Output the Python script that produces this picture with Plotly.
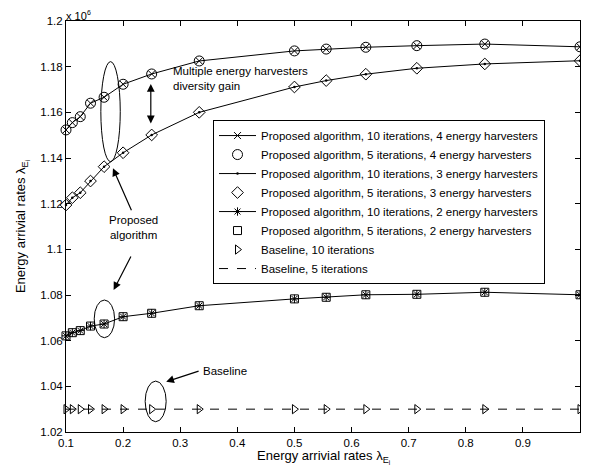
import plotly.graph_objects as go

# ---- data (y values in units of 10^6) ----
x_vals = [0.1, 0.1111, 0.125, 0.1429, 0.1667, 0.2, 0.25, 0.3333, 0.5, 0.5556, 0.625, 0.7143, 0.8333, 1.0]

eh4_10 = [1.1523, 1.1555, 1.1581, 1.1640, 1.1666, 1.1723, 1.1768, 1.1825, 1.1869, 1.1877, 1.1885, 1.1892, 1.1899, 1.1887]
eh4_5 = [1.1523, 1.1555, 1.1581, 1.1640, 1.1666, 1.1723, 1.1768, 1.1825, 1.1869, 1.1877, 1.1885, 1.1892, 1.1899, 1.1887]
eh3_10 = [1.1194, 1.1226, 1.1248, 1.1299, 1.1362, 1.1423, 1.1501, 1.1600, 1.1711, 1.1739, 1.1767, 1.1793, 1.1812, 1.1826]
eh3_5 = [1.1194, 1.1226, 1.1248, 1.1299, 1.1362, 1.1423, 1.1501, 1.1600, 1.1711, 1.1739, 1.1767, 1.1793, 1.1812, 1.1826]
eh2_10 = [1.0621, 1.0635, 1.0644, 1.0664, 1.0673, 1.0705, 1.0720, 1.0753, 1.0783, 1.0790, 1.0801, 1.0803, 1.0812, 1.0801]
eh2_5 = [1.0621, 1.0635, 1.0644, 1.0664, 1.0673, 1.0705, 1.0720, 1.0753, 1.0783, 1.0790, 1.0801, 1.0803, 1.0812, 1.0801]
base_10 = [1.03] * 14
base_5 = [1.03] * 14

series_names = [
    "Proposed algorithm, 10 iterations, 4 energy harvesters",
    "Proposed algorithm, 5 iterations, 4 energy harvesters",
    "Proposed algorithm, 10 iterations, 3 energy harvesters",
    "Proposed algorithm, 5 iterations, 3 energy harvesters",
    "Proposed algorithm, 10 iterations, 2 energy harvesters",
    "Proposed algorithm, 5 iterations, 2 energy harvesters",
    "Baseline, 10 iterations",
    "Baseline, 5 iterations",
]

x_ticks = [0.1, 0.2, 0.3, 0.4, 0.5, 0.6, 0.7, 0.8, 0.9, 1.0]
x_ticktext = ["0.1", "0.2", "0.3", "0.4", "0.5", "0.6", "0.7", "0.8", "0.9", "1"]
y_ticks = [1.02, 1.04, 1.06, 1.08, 1.1, 1.12, 1.14, 1.16, 1.18, 1.2]
y_ticktext = ["1.02", "1.04", "1.06", "1.08", "1.1", "1.12", "1.14", "1.16", "1.18", "1.2"]

FONT = "Liberation Sans, Arial, Helvetica, sans-serif"
FS = 11.5
K = "black"
axis_title = "Energy arrivial rates λ<sub>E<sub>i</sub></sub>"

fig = go.Figure()

def add(y, name, mode, symbol=None, size=8, dash="solid", mlw=1):
    kw = {}
    if "markers" in mode:
        kw["marker"] = dict(symbol=symbol, size=size, color=K, line=dict(color=K, width=mlw))
    if "lines" in mode:
        kw["line"] = dict(color=K, width=1, dash=dash)
    fig.add_trace(go.Scatter(x=x_vals, y=y, name=name, mode=mode, cliponaxis=False, **kw))

add(eh4_10, series_names[0], "lines+markers", "x-thin-open", 7)
add(eh4_5, series_names[1], "markers", "circle-open", 10)
add(eh3_10, series_names[2], "lines+markers", "circle", 2.5, mlw=0)
add(eh3_5, series_names[3], "markers", "diamond-open", 9)
add(eh2_10, series_names[4], "lines+markers", "asterisk-open", 7)
add(eh2_5, series_names[5], "markers", "square-open", 8)
add(base_10, series_names[6], "markers", "triangle-right-open", 8)
add(base_5, series_names[7], "lines", dash="dash")

shapes = []
for (x0, x1, y0, y1) in [(0.161, 0.195, 1.1384, 1.1822),
                         (0.1494, 0.1851, 1.0613, 1.0778),
                         (0.2386, 0.2754, 1.0245, 1.0423)]:
    shapes.append(dict(type="circle", xref="x", yref="y", x0=x0, x1=x1, y0=y0, y1=y1,
                       line=dict(color=K, width=1)))

annotations = []
# arrows
for (tx, ty, hx, hy, side) in [(0.2157, 1.1165, 0.1822, 1.1355, "end"),
                               (0.215, 1.0975, 0.1834, 1.0822, "end"),
                               (0.3348, 1.0469, 0.2754, 1.0420, "end"),
                               (0.2485, 1.1545, 0.2485, 1.1724, "end+start")]:
    annotations.append(dict(x=hx, y=hy, ax=tx, ay=ty, xref="x", yref="y", axref="x", ayref="y",
                            text="", showarrow=True, arrowhead=2, arrowsize=1.3, arrowwidth=1.2,
                            arrowcolor=K, arrowside=side))
annotations += [
    dict(x=0.218, y=1.1096, xref="x", yref="y", text="Proposed<br>algorithm", showarrow=False,
         xanchor="center", yanchor="middle", align="center", font=dict(size=FS, color=K, family=FONT)),
    dict(x=0.284, y=1.1747, xref="x", yref="y", text="Multiple energy harvesters<br>diversity gain",
         showarrow=False, xanchor="left", yanchor="middle", align="left",
         font=dict(size=FS, color=K, family=FONT)),
    dict(x=0.337, y=1.0467, xref="x", yref="y", text="Baseline", showarrow=False,
         xanchor="left", yanchor="middle", font=dict(size=FS, color=K, family=FONT)),
    # exponent label "x 10^6"
    dict(x=0.0, y=1.0, xref="paper", yref="paper", text="x 10", showarrow=False, borderpad=0,
         xanchor="left", yanchor="middle", yshift=5.5, xshift=-1, font=dict(size=11, color=K, family=FONT)),
    dict(x=0.0, y=1.0, xref="paper", yref="paper", text="6", showarrow=False, borderpad=0,
         xanchor="left", yanchor="middle", yshift=8.3, xshift=20, font=dict(size=7, color=K, family=FONT)),
    # x-axis title
    dict(x=0.5, y=0.0, xref="paper", yref="paper", text=axis_title, showarrow=False,
         xanchor="center", yanchor="top", yshift=-13.5, font=dict(size=13, color=K, family=FONT)),
]

# The page body keeps an 8px margin; the figure is sized so that the page does not overflow.
fig.update_layout(
    width=573, height=459,
    margin=dict(l=58, r=1, t=13, b=35),
    paper_bgcolor="white", plot_bgcolor="white",
    font=dict(family=FONT, size=FS, color=K),
    showlegend=True,
    legend=dict(x=0.286, y=0.759, xanchor="left", yanchor="top",
                bordercolor=K, borderwidth=1, bgcolor="white",
                font=dict(size=FS, family=FONT, color=K),
                itemwidth=37, tracegroupgap=0),
    shapes=shapes,
    annotations=annotations,
)
fig.update_xaxes(range=[0.1, 1.0], tickvals=x_ticks, ticktext=x_ticktext,
                 showline=True, linecolor=K, linewidth=1, mirror="ticks",
                 ticks="inside", ticklen=5, tickcolor=K, showgrid=False, zeroline=False)
fig.update_yaxes(range=[1.02, 1.2], tickvals=y_ticks, ticktext=y_ticktext,
                 showline=True, linecolor=K, linewidth=1, mirror="ticks",
                 ticks="inside", ticklen=5, tickcolor=K, showgrid=False, zeroline=False,
                 title=dict(text=axis_title, font=dict(size=13, family=FONT), standoff=11))

fig.write_html("out.html")
